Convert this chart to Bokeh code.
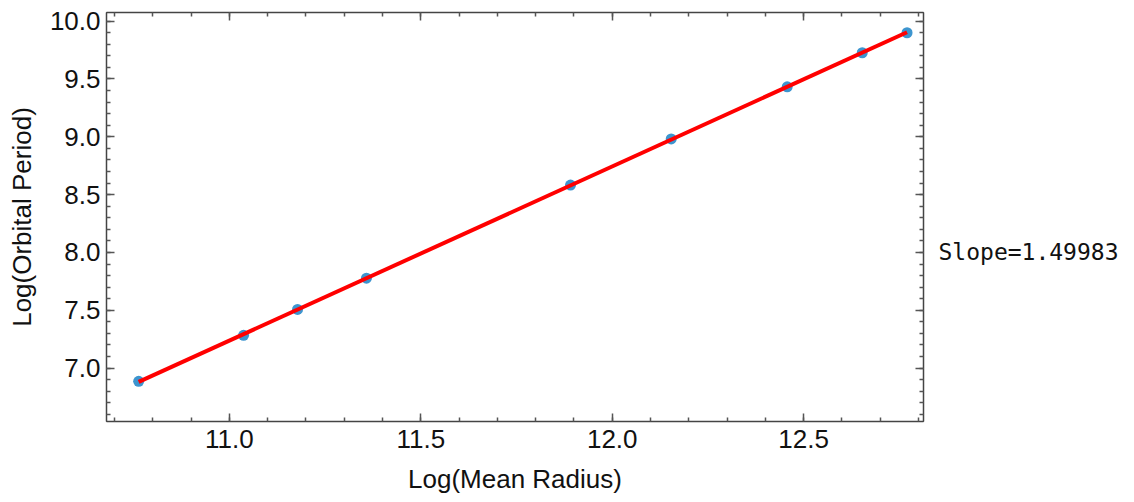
import numpy as np
from bokeh.plotting import figure
from bokeh.models import FixedTicker, PrintfTickFormatter, LinearAxis, Range1d, CustomJSTickFormatter
from bokeh.embed import file_html
from bokeh.resources import INLINE

log_radius = [10.763, 11.037, 11.178, 11.358, 11.891, 12.154, 12.457, 12.653, 12.770]
log_period = [6.885, 7.283, 7.507, 7.777, 8.583, 8.982, 9.432, 9.727, 9.900]
x_major = [11.0, 11.5, 12.0, 12.5]
y_major = [7.0, 7.5, 8.0, 8.5, 9.0, 9.5, 10.0]
slope_text = "Slope=1.49983"
slope_label_y = 8.0

slope, intercept = np.polyfit(log_radius, log_period, 1)
fit_x = [min(log_radius), max(log_radius)]
fit_y = [intercept + slope * v for v in fit_x]

x_minor = [round(10.7 + 0.1 * i, 2) for i in range(22)]
y_minor = [round(6.6 + 0.1 * i, 2) for i in range(35)]

p = figure(width=1121, height=502, output_backend="svg", toolbar_location=None,
           x_range=Range1d(10.679, 12.813), y_range=Range1d(6.538, 10.075),
           min_border_left=106, min_border_right=198, min_border_top=12, min_border_bottom=81,
           x_axis_label="Log(Mean Radius)", y_axis_label="Log(Orbital Period)")
p.grid.visible = False
p.outline_line_color = "#444444"
p.background_fill_color = "white"

p.scatter(log_radius, log_period, size=11, fill_color="#3d95cf", line_color=None)
p.line(fit_x, fit_y, line_color="#ff0000", line_width=4)

def style(ax, ticks, minor):
    ax.ticker = FixedTicker(ticks=ticks, minor_ticks=minor)
    ax.formatter = PrintfTickFormatter(format="%.1f")
    ax.major_tick_in = 8
    ax.major_tick_out = 0
    ax.minor_tick_in = 4
    ax.minor_tick_out = 0
    ax.axis_line_color = "#444444"
    ax.axis_line_width = 1.5
    ax.major_tick_line_color = "#555555"
    ax.minor_tick_line_color = "#555555"
    ax.major_tick_line_width = 1.5
    ax.minor_tick_line_width = 1.5
    ax.major_label_text_font = "Liberation Sans"
    ax.major_label_text_font_size = "26px"
    ax.major_label_text_color = "#111111"
    ax.axis_label_text_font = "Liberation Sans"
    ax.axis_label_text_font_size = "26px"
    ax.axis_label_text_font_style = "normal"
    ax.axis_label_text_color = "#111111"

style(p.xaxis[0], x_major, x_minor)
style(p.yaxis[0], y_major, y_minor)
p.xaxis[0].major_label_standoff = 8
p.xaxis[0].axis_label_standoff = 13
p.yaxis[0].major_label_standoff = 6
p.yaxis[0].axis_label_standoff = 10

top = LinearAxis()
right = LinearAxis()
style(top, x_major, x_minor)
style(right, y_major, y_minor)
top.formatter = CustomJSTickFormatter(code="return '';")
top.major_label_standoff = 0
top.major_label_text_font_size = "2px"
right.formatter = CustomJSTickFormatter(args=dict(t=slope_text, v=slope_label_y),
                                        code="return Math.abs(tick - v) < 1e-6 ? t : '';")
right.major_label_text_font = "DejaVu Sans Mono"
right.major_label_text_font_size = "23px"
right.major_label_standoff = 15
p.add_layout(top, "above")
p.add_layout(right, "right")

open("out.html", "w").write(file_html(p, INLINE))
